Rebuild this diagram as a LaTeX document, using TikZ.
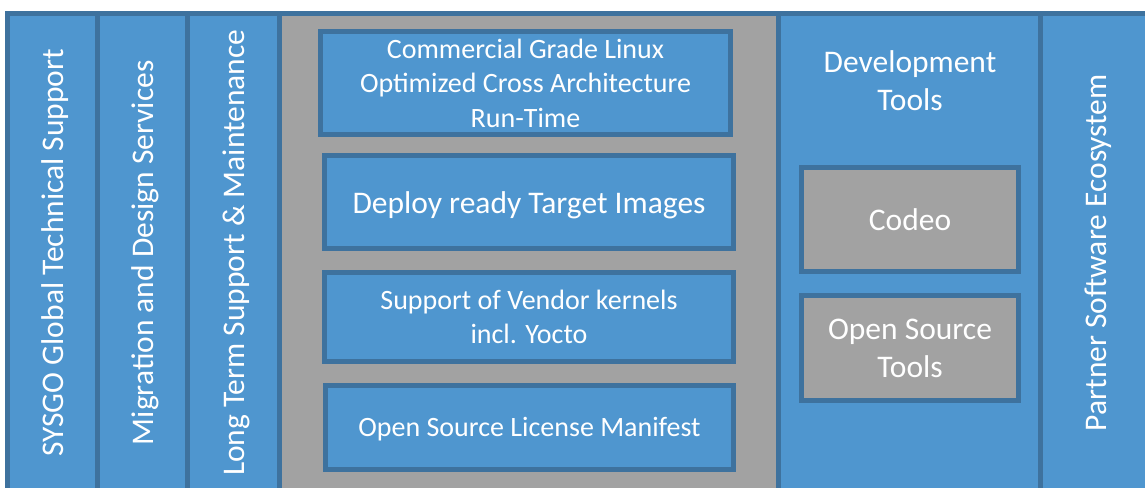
\documentclass[tikz,border=0pt]{standalone}
\usepackage{fontspec}
\setmainfont{Carlito}
\definecolor{bfill}{HTML}{4F96CF}
\definecolor{bline}{HTML}{3E729E}
\definecolor{gfill}{HTML}{A2A2A2}
\newcommand{\dn}[2][3pt]{\raisebox{-#1}[\height][\depth]{#2}}
\begin{document}
\begin{tikzpicture}[x=1pt,y=-1pt,
  col/.style={draw=bline, fill=bfill, line width=5pt, inner sep=0pt, text=white, align=center},
  gcol/.style={draw=bline, fill=gfill, line width=5pt, inner sep=0pt},
  bbox/.style={draw=bline, fill=bfill, line width=5pt, inner sep=0pt, text=white, align=center},
  gbox/.style={draw=bline, fill=gfill, line width=5pt, inner sep=0pt, text=white, align=center},
  f28/.style={font=\fontsize{28}{34.5}\selectfont},
  f31/.style={font=\fontsize{31.5}{38}\selectfont}]
\useasboundingbox (0,0) rectangle (1145,487);
\fill[white] (0,0) rectangle (1145,487);
\clip (0,0) rectangle (1145,487);
% columns
\node[col, f31, rotate=90, minimum width=478.5, minimum height=90] (c1) at (52,252.75) {\dn{SYSGO Global Technical Support}};
\node[col, f31, rotate=90, minimum width=478.5, minimum height=90.5] (c2) at (142.25,252.75) {\dn{Migration and Design Services}};
\node[col, f31, rotate=90, minimum width=478.5, minimum height=92] (c3) at (233.5,252.75) {\dn{Long Term Support \& Maintenance}};
\node[gcol, minimum width=499, minimum height=478.5] (g) at (529,252.75) {};
\node[col, minimum width=262, minimum height=478.5] (dev) at (909.5,252.75) {};
\node[col, f31, rotate=90, minimum width=478.5, minimum height=109.5] (c6) at (1095.25,252.75) {\dn{Partner Software Ecosystem}};
% inner boxes
\node[bbox, f28, minimum width=410, minimum height=103] (b1) at (525.5,83) {Commercial Grade Linux\\Optimized Cross Architecture\\Run-Time};
\node[bbox, f31, minimum width=409, minimum height=93] (b2) at (529,202) {\dn{Deploy ready Target Images}};
\node[bbox, f28, minimum width=409, minimum height=89] (b3) at (529,317) {Support of Vendor kernels\\incl. Yocto};
\node[bbox, f28, minimum width=408, minimum height=84] (b4) at (529.5,427.5) {\dn[2pt]{Open Source License Manifest}};
% dev tools
\node[f31, text=white, align=center, inner sep=0pt] (devt) at (910,81) {Development\\Tools};
\node[gbox, f31, minimum width=217, minimum height=104] (codeo) at (910,219.5) {Codeo};
\node[gbox, f31, minimum width=217, minimum height=105] (ost) at (910,348) {Open Source\\Tools};
\end{tikzpicture}
\end{document}
